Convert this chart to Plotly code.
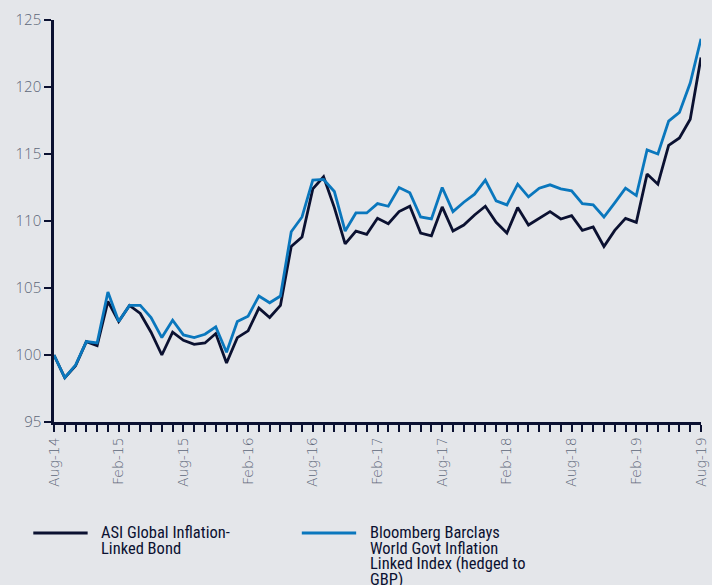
import plotly.graph_objects as go

months = ["Aug-14","Sep-14","Oct-14","Nov-14","Dec-14","Jan-15","Feb-15","Mar-15","Apr-15","May-15","Jun-15","Jul-15",
          "Aug-15","Sep-15","Oct-15","Nov-15","Dec-15","Jan-16","Feb-16","Mar-16","Apr-16","May-16","Jun-16","Jul-16",
          "Aug-16","Sep-16","Oct-16","Nov-16","Dec-16","Jan-17","Feb-17","Mar-17","Apr-17","May-17","Jun-17","Jul-17",
          "Aug-17","Sep-17","Oct-17","Nov-17","Dec-17","Jan-18","Feb-18","Mar-18","Apr-18","May-18","Jun-18","Jul-18",
          "Aug-18","Sep-18","Oct-18","Nov-18","Dec-18","Jan-19","Feb-19","Mar-19","Apr-19","May-19","Jun-19","Jul-19",
          "Aug-19"]

asi_fund = [100.0, 98.3, 99.2, 101.0, 100.7, 104.0, 102.5, 103.7, 103.1, 101.7, 100.0, 101.7,
            101.1, 100.8, 100.9, 101.6, 99.4, 101.3, 101.8, 103.5, 102.8, 103.7, 108.1, 108.8,
            112.4, 113.3, 111.0, 108.3, 109.25, 109.0, 110.2, 109.8, 110.7, 111.1, 109.1, 108.9,
            111.05, 109.25, 109.7, 110.45, 111.1, 109.9, 109.1, 111.0, 109.7, 110.2, 110.7, 110.15,
            110.4, 109.3, 109.55, 108.1, 109.3, 110.2, 109.9, 113.5, 112.75, 115.65, 116.2, 117.6,
            122.2]

bbg_index = [100.0, 98.3, 99.25, 101.0, 100.9, 104.7, 102.5, 103.7, 103.7, 102.8, 101.3, 102.6,
             101.5, 101.3, 101.55, 102.1, 100.2, 102.5, 102.9, 104.4, 103.9, 104.4, 109.2, 110.3,
             113.05, 113.1, 112.2, 109.25, 110.6, 110.6, 111.3, 111.1, 112.5, 112.1, 110.3, 110.15,
             112.5, 110.7, 111.4, 112.0, 113.05, 111.5, 111.2, 112.75, 111.8, 112.45, 112.7, 112.4,
             112.25, 111.3, 111.2, 110.3, 111.35, 112.45, 111.9, 115.3, 115.0, 117.45, 118.1, 120.3,
             123.6]

series_lines = [["ASI Global Inflation-", "Linked Bond"],
                ["Bloomberg Barclays", "World Govt Inflation", "Linked Index (hedged to", "GBP)"]]
y_ticks = [95, 100, 105, 110, 115, 120, 125]

DARK = "#0b1131"
BLUE = "#0a77bd"
BG = "#e4e6ea"
GREY = "#5d6679"

fig = go.Figure()
fig.add_trace(go.Scatter(x=months, y=asi_fund, mode="lines", line=dict(color=DARK, width=2.8),
                         name="ASI", showlegend=False))
fig.add_trace(go.Scatter(x=months, y=bbg_index, mode="lines", line=dict(color=BLUE, width=2.8),
                         name="BBG", showlegend=False))

ticktext = [m if i % 6 == 0 else "" for i, m in enumerate(months)]

fig.update_layout(
    width=712, height=585,
    margin=dict(l=54, r=3, t=20, b=163),
    paper_bgcolor=BG, plot_bgcolor=BG,
    font=dict(family="Open Sans, sans-serif", color=GREY),
    xaxis=dict(type="category", range=[0, len(months) - 1], tickmode="array",
               tickvals=months, ticktext=ticktext, tickangle=-90,
               ticks="outside", ticklen=7, tickwidth=2, tickcolor=DARK,
               showline=True, linecolor=DARK, linewidth=2.5, showgrid=False, zeroline=False,
               tickfont=dict(family="DejaVu Sans, sans-serif", size=14, color=GREY, weight=300)),
    yaxis=dict(range=[95, 125], tickvals=y_ticks, ticks="outside", ticklen=7, tickwidth=2,
               tickcolor=DARK, showline=True, linecolor=DARK, linewidth=2.5,
               showgrid=False, zeroline=False,
               tickfont=dict(family="Open Sans, sans-serif", size=15, color=GREY, weight=300)),
)

# custom legend (paper coords: x=(px-54)/655, y=(422-py)/402)
legend_font = dict(family="Liberation Sans Narrow, Roboto Condensed, Arial Narrow, sans-serif",
                   size=16.5, color=DARK)
for (x0, x1, tx), col, lines in zip([(-0.032, 0.052, 0.070), (0.383, 0.467, 0.4855)], [DARK, BLUE], series_lines):
    fig.add_shape(type="line", xref="paper", yref="paper", x0=x0, x1=x1, y0=-0.276, y1=-0.276,
                  line=dict(color=col, width=3))
    for k, txt in enumerate(lines):
        fig.add_annotation(xref="paper", yref="paper", x=tx, y=-0.276 - k * 0.0386,
                           xanchor="left", yanchor="middle",
                           text=txt, showarrow=False, align="left", font=legend_font)

fig.write_html("out.html", post_script="document.body.style.margin='0';",
               config={"displayModeBar": False})
